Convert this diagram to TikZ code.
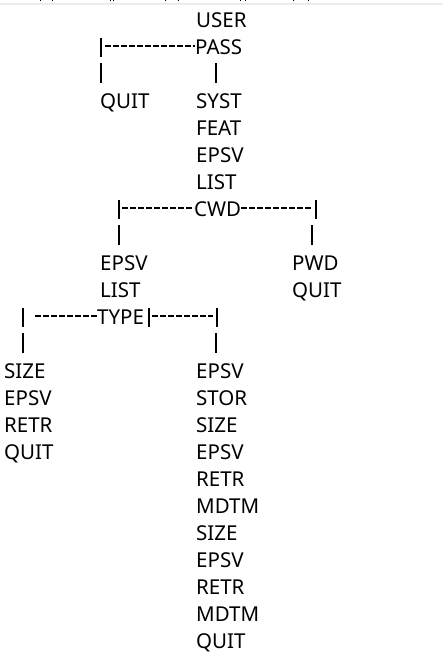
\documentclass[tikz,border=0pt]{standalone}
\usepackage{fontspec}
\setmainfont{Noto Sans}
\begin{document}
\begin{tikzpicture}[x=1pt,y=-1pt,
  word/.style={anchor=base west, inner sep=0pt, font=\fontsize{20.5}{20.5}\selectfont},
  bar/.style={line width=1.3pt},
  dashline/.style={line width=1.2pt, dash pattern=on 6pt off 2pt}]
\useasboundingbox (0,0) rectangle (443,662);
% top strip
\fill[black!8] (0,2.7) rectangle (443,4.7);
\foreach \x in {40,52,110,113,165,178,240,245,293,308}
  \draw[line width=1pt] (\x,0) -- (\x,1.3);
% words
\node[word] (user) at (196,27) {USER};
\node[word] (pass) at (195,54) {PASS};
\node[word] (quitA) at (100,108) {QUIT};
\node[word] (syst) at (196,108) {SYST};
\node[word] (feat) at (196,135) {FEAT};
\node[word] (epsvA) at (196,162) {EPSV};
\node[word] (listA) at (196,189) {LIST};
\node[word] (cwd) at (194,216) {CWD};
\node[word] (epsvB) at (100,270) {EPSV};
\node[word] (pwd) at (292,270) {PWD};
\node[word] (listB) at (100,297) {LIST};
\node[word] (quitB) at (292,297) {QUIT};
\node[word] (type) at (97,324) {TYPE};
\node[word] (sizeL) at (4,378) {SIZE};
\node[word] (epsvL) at (4,405) {EPSV};
\node[word] (retrL) at (4,432) {RETR};
\node[word] (quitL) at (4,459) {QUIT};
\node[word] (r1) at (196,378) {EPSV};
\node[word] (r2) at (196,405) {STOR};
\node[word] (r3) at (196,432) {SIZE};
\node[word] (r4) at (196,459) {EPSV};
\node[word] (r5) at (196,486) {RETR};
\node[word] (r6) at (196,513) {MDTM};
\node[word] (r7) at (196,540) {SIZE};
\node[word] (r8) at (196,567) {EPSV};
\node[word] (r9) at (196,594) {RETR};
\node[word] (r10) at (196,621) {MDTM};
\node[word] (r11) at (196,648) {QUIT};
% PASS branch
\coordinate (p1) at (101,38);
\coordinate (p2) at (101,57);
\draw[bar] (p1) -- (p2);
\draw[dashline] (105,46) -- (pass.west |- 0,46);
\draw[bar] (101,63) -- (101,83);
\draw[bar] (216,63) -- (216,83);
% CWD branch
\draw[bar] (119,200) -- (119,219);
\draw[dashline] (122,208) -- (cwd.west |- 0,208);
\draw[dashline] (cwd.east |- 0,208) -- (313,208);
\draw[bar] (316,200) -- (316,219);
\draw[bar] (119,225) -- (119,245);
\draw[bar] (312,225) -- (312,245);
% TYPE branch
\draw[bar] (23,308) -- (23,327);
\draw[dashline] (35,316) -- (type.west |- 0,316);
\draw[bar] (149,308) -- (149,327);
\draw[dashline] (152,316) -- (213,316);
\draw[bar] (217,308) -- (217,327);
\draw[bar] (23,333) -- (23,353);
\draw[bar] (216,333) -- (216,353);
\end{tikzpicture}
\end{document}
